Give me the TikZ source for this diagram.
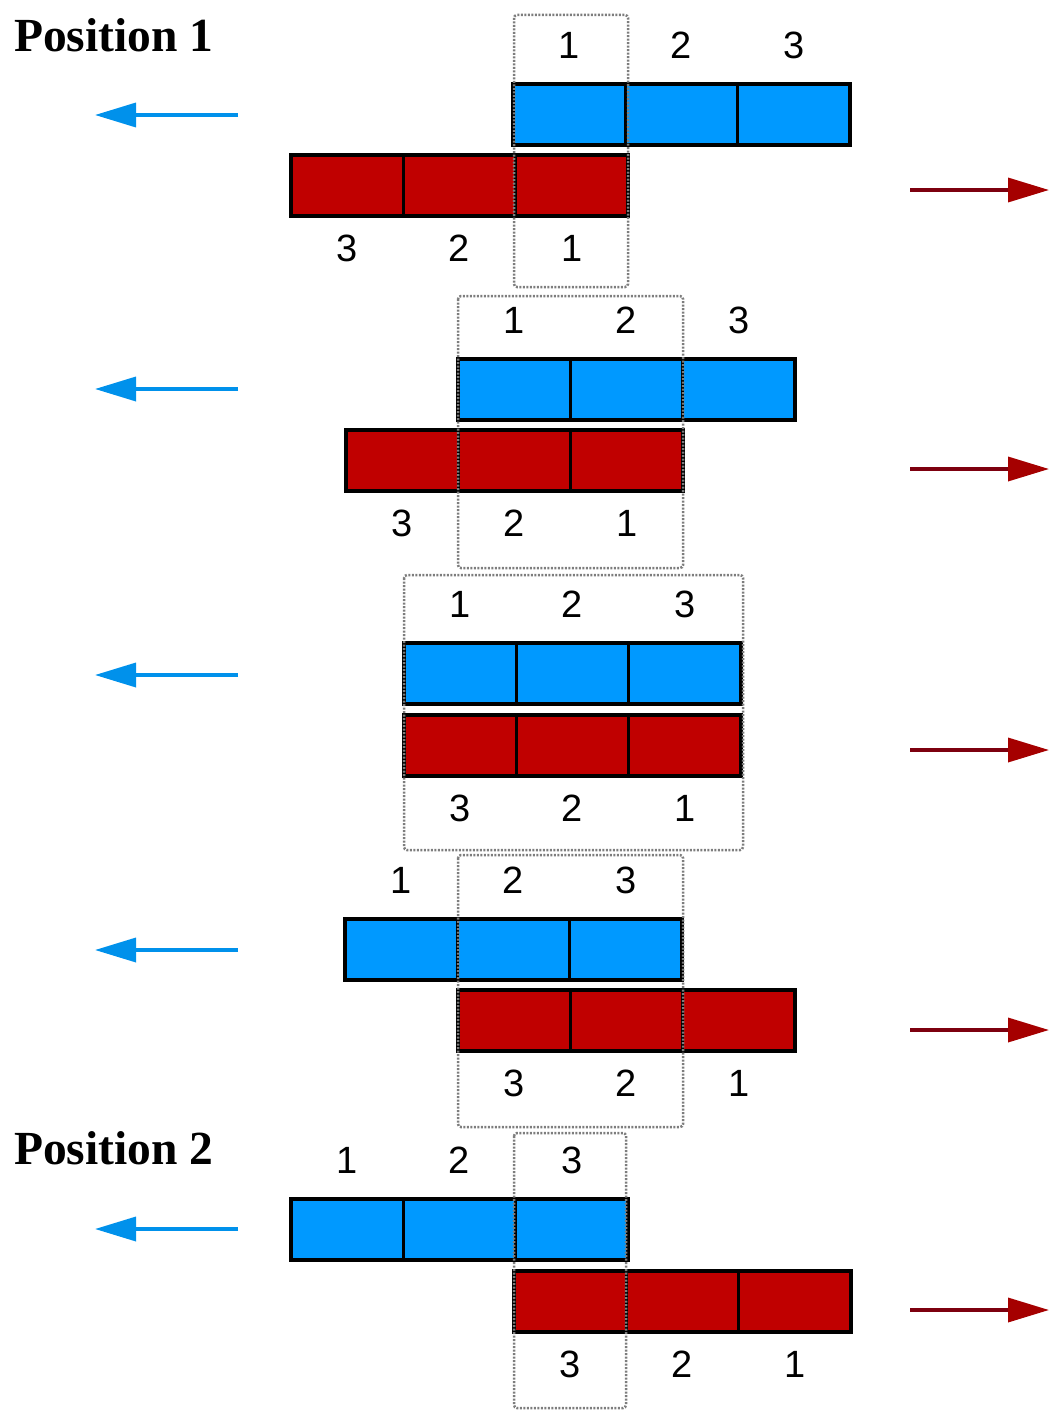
\documentclass[tikz,border=0pt]{standalone}
\usepackage{fontspec}
\setmainfont{Liberation Sans}
\newfontfamily\titlefont{Liberation Serif}
\usetikzlibrary{arrows.meta}
\definecolor{cblue}{RGB}{0,153,255}
\definecolor{cred}{RGB}{192,0,0}
\definecolor{darkred}{RGB}{125,0,15}
\definecolor{headred}{RGB}{165,0,0}
\definecolor{arrblue}{RGB}{0,145,235}
\definecolor{wingray}{RGB}{125,125,125}
\begin{document}
\begin{tikzpicture}[x=1pt,y=-1pt,
 cell/.style={draw=black,line width=3.5pt,minimum width=112.3pt,minimum height=61pt,inner sep=0pt,outer sep=0pt,anchor=north west},
 bluecell/.style={cell,fill=cblue},
 redcell/.style={cell,fill=cred},
 num/.style={font=\fontsize{38}{40}\selectfont,inner sep=0pt},
 window/.style={draw=wingray,line width=2.5pt,dash pattern=on 2pt off 1.5pt,rounded corners=3pt},
 bluearrow/.style={draw=arrblue,line width=3.5pt,-{Triangle[length=41pt,width=24pt]}},
 redarrow/.style={draw=darkred,line width=3.5pt,-{Triangle[length=41pt,width=24pt,color=headred,fill=headred]}},
 title/.style={font=\titlefont\bfseries\fontsize{47.5}{50}\selectfont,anchor=west,inner sep=0pt}]
\useasboundingbox (0,0) rectangle (1049,1410);
\node[title] (p1) at (14,35) {Position 1};
\node[title] (p2) at (14,1148) {Position 2};
\foreach \r/\bl/\bt/\rl/\rt/\wl/\wr/\wt/\wb/\ay/\ry in {
 1/513/84/291/155/514/628/15/287/115/190,
 2/458/359/346/430/458/683/296/568/389/469,
 3/404/643/404/715/404/743/575/850/675/750,
 4/345/919/458/990/458/683/855/1127/950/1030,
 5/291/1199/514/1271/514/626/1133/1408/1229/1310}{
  \node[bluecell] (b\r-1) at (\bl,\bt) {};
  \node[bluecell] (b\r-2) at ({\bl+112.3},\bt) {};
  \node[bluecell] (b\r-3) at ({\bl+224.6},\bt) {};
  \node[redcell] (r\r-1) at (\rl,\rt) {};
  \node[redcell] (r\r-2) at ({\rl+112.3},\rt) {};
  \node[redcell] (r\r-3) at ({\rl+224.6},\rt) {};
  \node[num] (tb\r-1) at ([yshift=39pt]b\r-1.north) {1};
  \node[num] (tb\r-2) at ([yshift=39pt]b\r-2.north) {2};
  \node[num] (tb\r-3) at ([yshift=39pt]b\r-3.north) {3};
  \node[num] (tr\r-1) at ([yshift=-32pt]r\r-1.south) {3};
  \node[num] (tr\r-2) at ([yshift=-32pt]r\r-2.south) {2};
  \node[num] (tr\r-3) at ([yshift=-32pt]r\r-3.south) {1};
  \draw[window] (\wl,\wt) rectangle (\wr,\wb);
  \coordinate (bas\r) at (238,\ay);
  \coordinate (bae\r) at (95,\ay);
  \draw[bluearrow] (bas\r) -- (bae\r);
  \coordinate (ras\r) at (910,\ry);
  \coordinate (rae\r) at (1049,\ry);
  \draw[redarrow] (ras\r) -- (rae\r);
}
\end{tikzpicture}
\end{document}
